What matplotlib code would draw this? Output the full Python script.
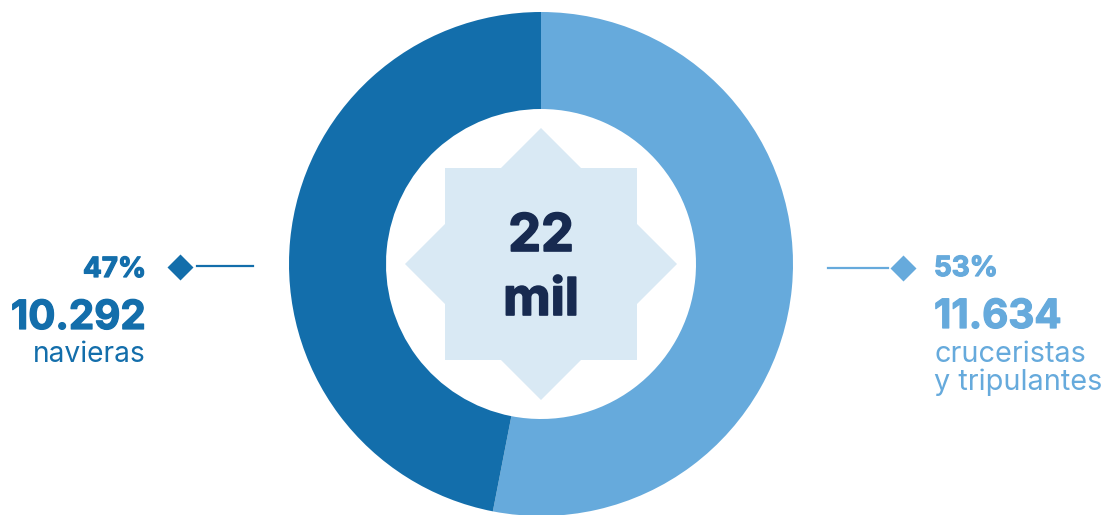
import matplotlib
matplotlib.use('Agg')
import matplotlib.pyplot as plt
import matplotlib.patheffects as pe
from matplotlib.patches import RegularPolygon

# Datos
etiquetas = ['cruceristas\ny tripulantes', 'navieras']
valores = [11634, 10292]
porcentajes = ['53%', '47%']
cifras = ['11.634', '10.292']
total_txt = ['22', 'mil']

c_claro = '#66aadc'
c_oscuro = '#136eab'
c_estrella = '#d9e9f4'
c_texto = '#172a50'

plt.rcParams['font.family'] = ['Inter', 'DejaVu Sans']


def negrita(color, lw=0.9):
    # engrosa un poco el trazo de Inter bold
    return dict(fontweight='bold', color=color,
                path_effects=[pe.withStroke(linewidth=lw, foreground=color)])


W, H = 1103, 515
fig = plt.figure(figsize=(W / 100, H / 100), dpi=100)
ax = fig.add_axes([0, 0, 1, 1])

cx, cy = 541, 251
R = 252

ax.pie(valores, colors=[c_claro, c_oscuro], startangle=90, counterclock=False,
       radius=R, center=(cx, cy), wedgeprops=dict(width=97, linewidth=0))

# Estrella central de 8 puntas (dos cuadrados)
for ang in (0, 0.785398):
    ax.add_patch(RegularPolygon((cx, cy), numVertices=4, radius=136,
                                orientation=ang, facecolor=c_estrella,
                                edgecolor='none', zorder=3))

ax.text(cx, 264, total_txt[0], ha='center', va='baseline', fontsize=37.5,
        zorder=4, **negrita(c_texto, 1.2))
ax.text(cx, 200, total_txt[1], ha='center', va='baseline', fontsize=37.5,
        zorder=4, **negrita(c_texto, 1.2))

# Lado izquierdo: navieras
ax.plot([197, 253], [249, 249], color=c_oscuro, lw=1.6)
ax.plot([180], [248], marker='D', ms=13.5, color=c_oscuro, mec='none')
ax.text(146, 238, porcentajes[1], ha='right', va='baseline', fontsize=20,
        **negrita(c_oscuro))
ax.text(146, 186, cifras[1], ha='right', va='baseline', fontsize=29,
        **negrita(c_oscuro))
ax.text(146, 153, etiquetas[1], ha='right', va='baseline', fontsize=20.3,
        color=c_oscuro)

# Lado derecho: cruceristas y tripulantes
ax.plot([828, 888], [247, 247], color=c_claro, lw=1.6)
ax.plot([903], [247], marker='D', ms=13.5, color=c_claro, mec='none')
ax.text(934, 239, porcentajes[0], ha='left', va='baseline', fontsize=20,
        **negrita(c_claro))
ax.text(934, 187, cifras[0], ha='left', va='baseline', fontsize=29,
        **negrita(c_claro))
lineas = etiquetas[0].split('\n')
ax.text(934, 153, lineas[0], ha='left', va='baseline', fontsize=20.8, color=c_claro)
ax.text(934, 125, lineas[1], ha='left', va='baseline', fontsize=20.8, color=c_claro)

ax.set_xlim(0, W)
ax.set_ylim(0, H)
ax.set_aspect('equal')
ax.axis('off')

fig.savefig('out.png', dpi=100, facecolor='white')
